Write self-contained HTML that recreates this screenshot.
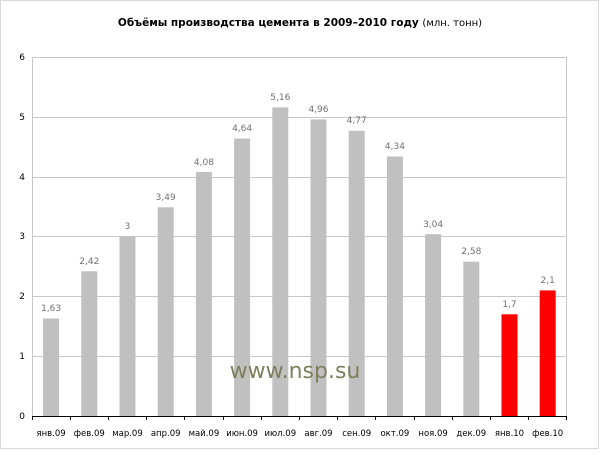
<!DOCTYPE html>
<html><head><meta charset="utf-8"><style>
body{margin:0;background:#fff}
svg text{font-family:"DejaVu Sans","Liberation Sans",sans-serif}
</style></head><body>
<svg width="600" height="450" xmlns="http://www.w3.org/2000/svg">
<rect x="0.5" y="0.5" width="598" height="448" fill="#fff" stroke="#d9d9d9"/>
<text x="300" y="26" text-anchor="middle" font-size="10.5" font-weight="bold" fill="#000">Объёмы производства цемента в 2009–2010 году <tspan font-weight="normal" font-size="10">(млн. тонн)</tspan></text>
<g stroke="#c8c8c8" stroke-width="1">
<line x1="32" y1="57.5" x2="567" y2="57.5"/>
<line x1="32" y1="117.5" x2="567" y2="117.5"/>
<line x1="32" y1="177.5" x2="567" y2="177.5"/>
<line x1="32" y1="236.5" x2="567" y2="236.5"/>
<line x1="32" y1="296.5" x2="567" y2="296.5"/>
<line x1="32" y1="356.5" x2="567" y2="356.5"/>
<line x1="566.5" y1="57" x2="566.5" y2="416"/>
<line x1="32.5" y1="57" x2="32.5" y2="416"/>
</g>
<g font-size="9" fill="#000" text-anchor="end">
<text x="25" y="60">6</text><text x="25" y="120">5</text><text x="25" y="180">4</text>
<text x="25" y="239">3</text><text x="25" y="299">2</text><text x="25" y="359">1</text><text x="25" y="419">0</text>
</g>
<g fill="#c0c0c0">
<rect x="43.1" y="318.5" width="16" height="97.5"/>
<rect x="81.3" y="271.3" width="16" height="144.7"/>
<rect x="119.5" y="236.6" width="16" height="179.4"/>
<rect x="157.7" y="207.3" width="16" height="208.7"/>
<rect x="195.9" y="172" width="16" height="244"/>
<rect x="234.1" y="138.5" width="16" height="277.5"/>
<rect x="272.3" y="107.4" width="16" height="308.6"/>
<rect x="310.5" y="119.4" width="16" height="296.6"/>
<rect x="348.7" y="130.8" width="16" height="285.2"/>
<rect x="386.9" y="156.5" width="16" height="259.5"/>
<rect x="425.1" y="234.2" width="16" height="181.8"/>
<rect x="463.3" y="261.7" width="16" height="154.3"/>
<rect x="501.5" y="314.3" width="16" height="101.7" fill="#ff0000"/>
<rect x="539.7" y="290.4" width="16" height="125.6" fill="#ff0000"/>
</g>
<g font-size="9" fill="#707070" text-anchor="middle">
<text x="51.1" y="311">1,63</text>
<text x="89.3" y="264">2,42</text>
<text x="127.5" y="229">3</text>
<text x="165.7" y="200">3,49</text>
<text x="203.9" y="165">4,08</text>
<text x="242.1" y="131">4,64</text>
<text x="280.3" y="100">5,16</text>
<text x="318.5" y="112">4,96</text>
<text x="356.7" y="123">4,77</text>
<text x="394.9" y="149">4,34</text>
<text x="433.1" y="227">3,04</text>
<text x="471.3" y="254">2,58</text>
<text x="509.5" y="307">1,7</text>
<text x="547.7" y="283">2,1</text>
</g>
<g font-size="8.5" fill="#000" text-anchor="middle">
<text x="51.1" y="436">янв.09</text>
<text x="89.3" y="436">фев.09</text>
<text x="127.5" y="436">мар.09</text>
<text x="165.7" y="436">апр.09</text>
<text x="203.9" y="436">май.09</text>
<text x="242.1" y="436">июн.09</text>
<text x="280.3" y="436">июл.09</text>
<text x="318.5" y="436">авг.09</text>
<text x="356.7" y="436">сен.09</text>
<text x="394.9" y="436">окт.09</text>
<text x="433.1" y="436">ноя.09</text>
<text x="471.3" y="436">дек.09</text>
<text x="509.5" y="436">янв.10</text>
<text x="547.7" y="436">фев.10</text>
</g>
<text x="295" y="378" text-anchor="middle" font-size="22" fill="#7f7f5f" font-family="Liberation Sans,sans-serif">www.nsp.su</text>
<line x1="32" y1="416.5" x2="567" y2="416.5" stroke="#000"/>
<g stroke="#000">
<line x1="32.5" y1="416" x2="32.5" y2="420"/><line x1="70.5" y1="416" x2="70.5" y2="420"/>
<line x1="108.5" y1="416" x2="108.5" y2="420"/><line x1="146.5" y1="416" x2="146.5" y2="420"/>
<line x1="184.5" y1="416" x2="184.5" y2="420"/><line x1="223.5" y1="416" x2="223.5" y2="420"/>
<line x1="261.5" y1="416" x2="261.5" y2="420"/><line x1="299.5" y1="416" x2="299.5" y2="420"/>
<line x1="337.5" y1="416" x2="337.5" y2="420"/><line x1="375.5" y1="416" x2="375.5" y2="420"/>
<line x1="414.5" y1="416" x2="414.5" y2="420"/><line x1="452.5" y1="416" x2="452.5" y2="420"/>
<line x1="490.5" y1="416" x2="490.5" y2="420"/><line x1="528.5" y1="416" x2="528.5" y2="420"/>
<line x1="566.5" y1="416" x2="566.5" y2="420"/>
</g>
</svg>
</body></html>
